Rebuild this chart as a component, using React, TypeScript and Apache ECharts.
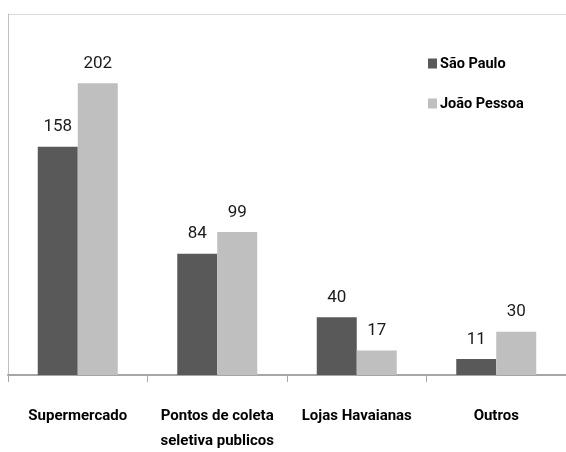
import React, { useEffect, useRef } from "react";
import * as echarts from "echarts";

const categories = ["Supermercado", "Pontos de coleta\nseletiva publicos", "Lojas Havaianas", "Outros"];
const saoPaulo = [158, 84, 40, 11];
const joaoPessoa = [202, 99, 17, 30];
const seriesNames = ["São Paulo", "João Pessoa"];

const FONT = "Roboto, 'Noto Sans', sans-serif";

export default function App() {
  const ref = useRef<HTMLDivElement>(null);
  useEffect(() => {
    if (!ref.current) return;
    const chart = echarts.init(ref.current, null, { renderer: "svg" });
    const labelStyle = {
      show: true,
      position: "top" as const,
      distance: 13,
      fontFamily: FONT,
      fontSize: 17,
      color: "#1a1a1a",
    };
    chart.setOption({
      animation: false,
      legend: {
        orient: "vertical",
        left: 423,
        top: 51,
        itemWidth: 9,
        itemHeight: 10,
        itemGap: 25,
        icon: "rect",
        textStyle: { fontFamily: FONT, fontSize: 14.5, fontWeight: "bold", color: "#000", padding: [0, 0, 0, -2] },
        data: seriesNames,
      },
      grid: { left: 8, right: -2, top: 14, bottom: 65 },
      xAxis: {
        type: "category",
        data: categories,
        axisLine: { lineStyle: { color: "#a6a6a6", width: 2 } },
        axisTick: { show: true, length: 7, lineStyle: { color: "#a6a6a6", width: 1 } },
        axisLabel: {
          margin: 27,
          fontFamily: FONT,
          fontSize: 15,
          fontWeight: "bold",
          color: "#000",
          lineHeight: 25,
          interval: 0,
        },
      },
      yAxis: {
        type: "value",
        min: 0,
        max: 250,
        interval: 250,
        axisLine: { show: true, lineStyle: { color: "#c0c0c0", width: 1 } },
        axisTick: { show: false },
        axisLabel: { show: false },
        splitLine: { show: true, lineStyle: { color: "#d9d9d9" } },
      },
      series: [
        {
          name: seriesNames[0],
          type: "bar",
          data: saoPaulo,
          barWidth: 40,
          barGap: "0%",
          itemStyle: { color: "#595959" },
          label: labelStyle,
        },
        {
          name: seriesNames[1],
          type: "bar",
          data: joaoPessoa,
          barWidth: 40,
          barGap: "0%",
          itemStyle: { color: "#bfbfbf" },
          label: labelStyle,
        },
      ],
    });
    return () => chart.dispose();
  }, []);
  return (
    <div
      ref={ref}
      style={{ position: "fixed", left: 0, top: 0, width: 566, height: 452 }}
    />
  );
}
